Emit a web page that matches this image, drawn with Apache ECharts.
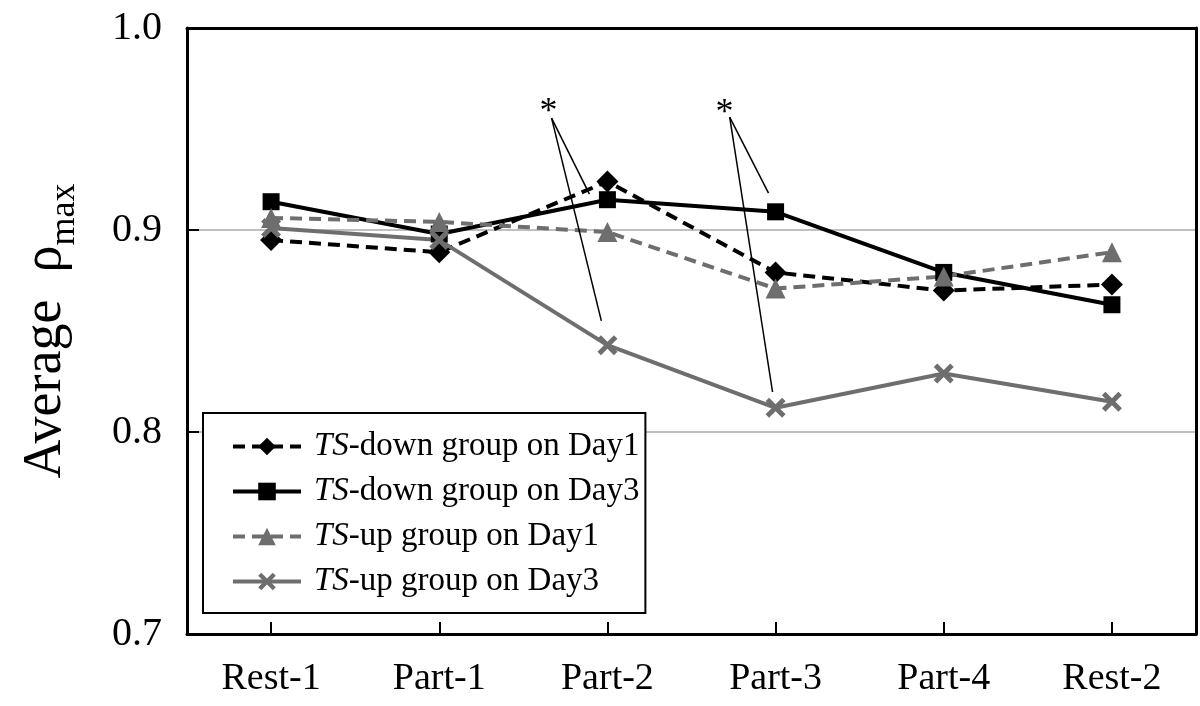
<!DOCTYPE html>
<html>
<head>
<meta charset="utf-8">
<script src="https://cdn.jsdelivr.net/npm/echarts@6/dist/echarts.min.js"></script>
<style>html,body{margin:0;padding:0;background:#fff}#c{width:1200px;height:706px}</style>
</head>
<body>
<div id="c"></div>
<script>
const categories = ['Rest-1', 'Part-1', 'Part-2', 'Part-3', 'Part-4', 'Rest-2'];
const seriesNames = ['TS-down group on Day1', 'TS-down group on Day3', 'TS-up group on Day1', 'TS-up group on Day3'];
const tsDownDay1 = [0.895, 0.889, 0.924, 0.879, 0.870, 0.873];
const tsDownDay3 = [0.914, 0.898, 0.915, 0.909, 0.879, 0.863];
const tsUpDay1 = [0.906, 0.904, 0.899, 0.871, 0.877, 0.889];
const tsUpDay3 = [0.901, 0.895, 0.843, 0.812, 0.829, 0.815];
const yTicks = [0.7, 0.8, 0.9, 1.0];
// significance annotations: star position and leader lines (category index + fractional offset, value)
const stars = [
  { cat: 2, dx: -0.356, y: 0.9614 },
  { cat: 3, dx: -0.309, y: 0.961 }
];
const leaders = [
  { cat: 2, from: [-0.332, 0.9554], to: [-0.107, 0.9178] },
  { cat: 2, from: [-0.332, 0.9554], to: [-0.036, 0.855] },
  { cat: 3, from: [-0.273, 0.9559], to: [-0.042, 0.9183] },
  { cat: 3, from: [-0.273, 0.9559], to: [-0.018, 0.8198] }
];

const FONT = 'Liberation Serif';
const BLACK = '#000000';
const GREY = '#6e6e6e';
const crossPath = 'path://M0,3.5 L3.5,0 L10,6.5 L16.5,0 L20,3.5 L13.5,10 L20,16.5 L16.5,20 L10,13.5 L3.5,20 L0,16.5 L6.5,10 Z';

const chart = echarts.init(document.getElementById('c'), null, { renderer: 'canvas' });

function mkSeries(name, data, color, dashed, symbol, size) {
  return {
    name: name, type: 'line', data: data,
    symbol: symbol, symbolSize: size,
    itemStyle: { color: color },
    lineStyle: { color: color, width: 4, type: dashed ? [12, 7] : 'solid' },
    animation: false
  };
}

const option = {
  animation: false,
  backgroundColor: '#fff',
  grid: { left: 187, right: 4, top: 28, bottom: 72, show: false },
  xAxis: [{
    type: 'category', data: categories, boundaryGap: true, position: 'bottom',
    axisLine: { show: true, lineStyle: { color: BLACK, width: 3 } },
    axisTick: { show: true, inside: true, alignWithLabel: true, length: 12, lineStyle: { color: BLACK, width: 2 } },
    axisLabel: { fontFamily: FONT, fontSize: 38, color: BLACK, margin: 26 },
    splitLine: { show: false }
  }, {
    type: 'category', data: categories, position: 'top',
    axisLine: { show: true, onZero: false, lineStyle: { color: BLACK, width: 3 } },
    axisTick: { show: false }, axisLabel: { show: false }, splitLine: { show: false }
  }],
  yAxis: [{
    type: 'value', min: 0.7, max: 1.0, interval: 0.1,
    name: '{a|Average  ρ}{s|max}', nameLocation: 'middle', nameRotate: 90, nameGap: 114,
    nameTextStyle: {
      rich: {
        a: { fontFamily: FONT, fontSize: 54, color: BLACK, verticalAlign: 'bottom', lineHeight: 58 },
        s: { fontFamily: FONT, fontSize: 36, color: BLACK, verticalAlign: 'bottom', lineHeight: 42, padding: [0, 0, -10, 0] }
      }
    },
    axisLine: { show: true, lineStyle: { color: BLACK, width: 3 } },
    axisTick: { show: true, inside: true, length: 12, lineStyle: { color: BLACK, width: 2 } },
    axisLabel: { fontFamily: FONT, fontSize: 40, color: BLACK, margin: 25, formatter: v => v.toFixed(1) },
    splitLine: { show: true, lineStyle: { color: '#aaaaaa', width: 1.5 } }
  }, {
    type: 'value', min: 0.7, max: 1.0, interval: 0.1, position: 'right',
    axisLine: { show: true, lineStyle: { color: BLACK, width: 3 } },
    axisTick: { show: false }, axisLabel: { show: false }, splitLine: { show: false }
  }],
  legend: {
    show: true, orient: 'vertical', left: 203, top: 413,
    backgroundColor: '#fff', borderColor: BLACK, borderWidth: 2,
    padding: [17, 6, 15, 28], itemGap: 12, itemWidth: 68, itemHeight: 22,
    data: seriesNames,
    lineStyle: { width: 4 },
    formatter: name => '{i|TS}' + name.slice(2),
    textStyle: {
      fontFamily: FONT, fontSize: 33, color: BLACK, padding: [0, 0, 0, 8],
      rich: { i: { fontFamily: FONT, fontSize: 33, fontStyle: 'italic', color: BLACK } }
    }
  },
  series: [
    mkSeries(seriesNames[0], tsDownDay1, BLACK, true, 'diamond', 22),
    mkSeries(seriesNames[1], tsDownDay3, BLACK, false, 'rect', 17),
    mkSeries(seriesNames[2], tsUpDay1, GREY, true, 'triangle', 20),
    mkSeries(seriesNames[3], tsUpDay3, GREY, false, crossPath, 20)
  ]
};
chart.setOption(option);

function toPx(cat, dx, val) {
  const p0 = chart.convertToPixel({ gridIndex: 0 }, [0, val]);
  const p1 = chart.convertToPixel({ gridIndex: 0 }, [1, val]);
  const pc = chart.convertToPixel({ gridIndex: 0 }, [cat, val]);
  const step = p1[0] - p0[0];
  return [pc[0] + dx * step, pc[1]];
}

const graphics = [];
leaders.forEach(l => {
  const a = toPx(l.cat, l.from[0], l.from[1]);
  const b = toPx(l.cat, l.to[0], l.to[1]);
  graphics.push({ type: 'line', shape: { x1: a[0], y1: a[1], x2: b[0], y2: b[1] }, style: { stroke: BLACK, lineWidth: 1.5 }, z: 100 });
});
stars.forEach(s => {
  const p = toPx(s.cat, s.dx, s.y);
  graphics.push({ type: 'text', x: p[0] + 1, y: p[1] + 7, style: { text: '*', font: '36px "' + FONT + '"', fill: BLACK, align: 'center', verticalAlign: 'middle' }, z: 100 });
});
chart.setOption({ graphic: graphics });
</script>
</body>
</html>
